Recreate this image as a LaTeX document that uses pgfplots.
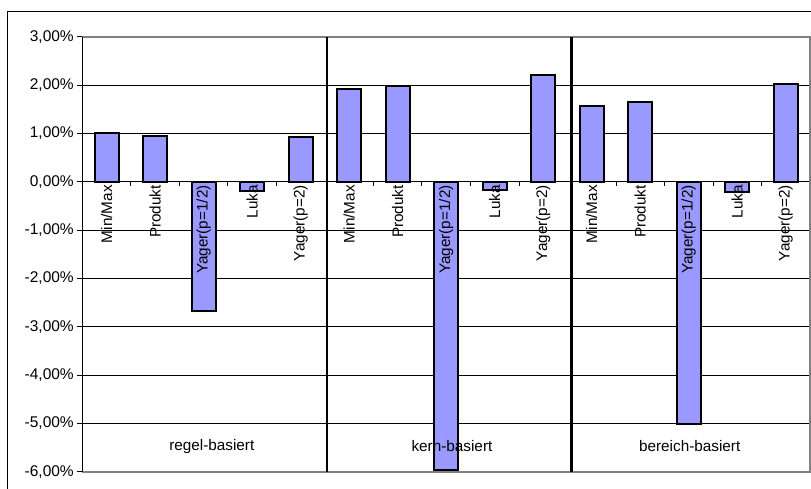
\documentclass[border=0pt]{standalone}
\usepackage{pgfplots}
\usepackage{pgfplotstable}
\pgfplotsset{compat=1.18}
\usepackage{fontspec}
\setmainfont{Liberation Sans}
\definecolor{barfill}{RGB}{153,153,255}
\definecolor{bordergray}{RGB}{128,128,128}

\pgfplotstableread{
x   y      zero  label
1   1.00   0     Min/Max
2   0.95   0     Produkt
3   -2.68  0     Yager(p=1/2)
4   -0.19  0     Luka
5   0.93   0     Yager(p=2)
6   1.92   0     Min/Max
7   1.99   0     Produkt
8   -5.96  0     Yager(p=1/2)
9   -0.17  0     Luka
10  2.21   0     Yager(p=2)
11  1.56   0     Min/Max
12  1.65   0     Produkt
13  -5.01  0     Yager(p=1/2)
14  -0.21  0     Luka
15  2.03   0     Yager(p=2)
}\datatable

\pgfplotstableread{
x     y      label
3.17  -5.47  regel-basiert
8.12  -5.47  kern-basiert
13.02 -5.47  bereich-basiert
}\grouptable

\begin{document}
\begin{tikzpicture}
\useasboundingbox (0,0) rectangle (811bp,489bp);
\draw[line width=1bp] (7.5bp,-20bp) -- (7.5bp,477bp) -- (840bp,477bp);
\begin{axis}[
  at={(82.3bp,17.3bp)}, anchor=south west,
  scale only axis, width=727.7bp, height=435bp,
  xmin=0.5, xmax=15.5, ymin=-6, ymax=3,
  axis line style={draw=none},
  xtick=\empty,
  ytick={-6,-5,-4,-3,-2,-1,0,1,2,3},
  yticklabels={{-6,00\%},{-5,00\%},{-4,00\%},{-3,00\%},{-2,00\%},{-1,00\%},{0,00\%},{1,00\%},{2,00\%},{3,00\%}},
  ytick pos=left,
  tick align=outside,
  major tick length=5bp,
  tick style={black, line width=0.8bp},
  ymajorgrids, grid style={black, line width=0.8bp},
  ticklabel style={font=\fontsize{15.5bp}{18bp}\selectfont},
  clip=false,
]
\addplot[ybar, bar shift=0pt, bar width=24bp, fill=barfill, draw=black, line width=2bp, line join=miter,
  postaction={draw=black, line width=2bp}]
  table[x=x, y=y] {\datatable};

\draw[bordergray, line width=1.8bp] (rel axis cs:0,1) -- (rel axis cs:1,1) -- (rel axis cs:1,0) -- (rel axis cs:0,0);
\draw[black, line width=1.2bp] (rel axis cs:0,0) -- (rel axis cs:0,1);

\pgfplotsinvokeforeach{1.5,2.5,3.5,4.5,6.5,7.5,8.5,9.5,11.5,12.5,13.5,14.5}{
  \draw[black, line width=0.8bp] (axis cs:#1,0) -- ([yshift=-4bp]axis cs:#1,0);
}
\draw[black, line width=2.5bp] (axis cs:5.54,-6) -- (axis cs:5.54,3);
\draw[black, line width=2.5bp] (axis cs:10.58,-6) -- (axis cs:10.58,3);

\addplot[draw=none, mark=none, nodes near coords, point meta=explicit symbolic,
  every node near coord/.style={rotate=90, anchor=east, black, font=\fontsize{15.3bp}{18bp}\selectfont}]
  table[x=x, y=zero, meta=label] {\datatable};

\addplot[draw=none, mark=none, nodes near coords, point meta=explicit symbolic,
  every node near coord/.style={anchor=center, black, font=\fontsize{15.3bp}{18bp}\selectfont}]
  table[x=x, y=y, meta=label] {\grouptable};
\end{axis}
\end{tikzpicture}
\end{document}
